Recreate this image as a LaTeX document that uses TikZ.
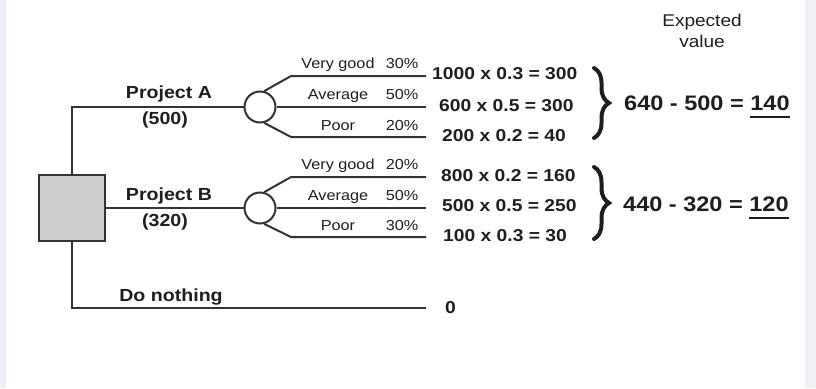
\documentclass[tikz,border=0pt]{standalone}
\usepackage{fontspec}
\setmainfont[FakeStretch=1.12]{Liberation Sans}
\usetikzlibrary{decorations.pathreplacing}
\definecolor{linegray}{HTML}{333333}
\definecolor{textblack}{HTML}{1E1E1E}
\definecolor{stripgray}{HTML}{EFF0F3}
\newcommand{\evline}[1]{\setbox0=\hbox{#1}\rlap{\vrule width\wd0 height -5.7pt depth 7.7pt}\box0}

\begin{document}
\begin{tikzpicture}[x=1pt,y=-1pt,
    branch/.style={draw=linegray,line width=2pt},
    chance/.style={circle,draw=linegray,line width=2pt,fill=white,minimum size=31pt,inner sep=0pt},
    decision/.style={rectangle,draw=linegray,line width=2pt,fill=gray!40,minimum size=66pt,inner sep=0pt},
    optlabel/.style={font=\fontsize{17.5}{20}\selectfont\bfseries,text=textblack,inner sep=0pt,anchor=base},
    outlabel/.style={font=\fontsize{14.5}{17}\selectfont,text=textblack,inner sep=0pt,anchor=base},
    calc/.style={font=\fontsize{17.2}{20}\selectfont\bfseries,text=textblack,inner sep=0pt,anchor=base west},
    ev/.style={font=\fontsize{21}{24}\selectfont\bfseries,text=textblack,inner sep=0pt,anchor=base west},
    bracket/.style={draw=textblack,line width=4pt,line cap=round,decorate,decoration={brace,amplitude=15pt}}]
    \useasboundingbox (0,0) rectangle (816,388);
    \fill[stripgray] (0,0) rectangle (6,388);
    \fill[stripgray] (805,0) rectangle (816,388);

    % decision and chance nodes
    \node[decision] (dec) at (71.5,208) {};
    \node[chance] (chA) at (260,107) {};
    \node[chance] (chB) at (260,208) {};

    % ends of the branches
    \coordinate (A1) at (426,76);
    \coordinate (A2) at (426,107);
    \coordinate (A3) at (426,137);
    \coordinate (B1) at (426,177);
    \coordinate (B2) at (426,208);
    \coordinate (B3) at (426,237);
    \coordinate (D0) at (426,308);

    \draw[branch] (chA.west) -| (dec.north);
    \draw[branch] (dec.east) -- (chB.west);
    \draw[branch] (dec.south) |- (D0);

    \draw[branch] (chA.75) -- (291,76) -- (A1);
    \draw[branch] (chA.east) -- (A2);
    \draw[branch] (chA.-75) -- (291,137) -- (A3);
    \draw[branch] (chB.75) -- (291,177) -- (B1);
    \draw[branch] (chB.east) -- (B2);
    \draw[branch] (chB.-75) -- (291,237) -- (B3);

    \node[optlabel] (pA) at (169,98.3) {Project A};
    \node[optlabel] (cA) at (165,124.5) {(500)};
    \node[optlabel] (pB) at (169,200) {Project B};
    \node[optlabel] (cB) at (165,226) {(320)};
    \node[optlabel] (dn) at (171,301.5) {Do nothing};

    \node[outlabel] (oA1) at (338,68.7) {Very good};
    \node[outlabel] (qA1) at (402,68.7) {30\%};
    \node[outlabel] (oA2) at (338,99.7) {Average};
    \node[outlabel] (qA2) at (402,99.7) {50\%};
    \node[outlabel] (oA3) at (338,130.4) {Poor};
    \node[outlabel] (qA3) at (402,130.4) {20\%};
    \node[outlabel] (oB1) at (338,169.4) {Very good};
    \node[outlabel] (qB1) at (402,169.4) {20\%};
    \node[outlabel] (oB2) at (338,200.4) {Average};
    \node[outlabel] (qB2) at (402,200.4) {50\%};
    \node[outlabel] (oB3) at (338,230.4) {Poor};
    \node[outlabel] (qB3) at (402,230.4) {30\%};

    \node[calc] (rA1) at (432,79.5) {1000 x 0.3 = 300};
    \node[calc] (rA2) at (439,111.5) {600 x 0.5 = 300};
    \node[calc] (rA3) at (442,141.5) {200 x 0.2 = 40};
    \node[calc] (rB1) at (441,181.5) {800 x 0.2 = 160};
    \node[calc] (rB2) at (442,211.5) {500 x 0.5 = 250};
    \node[calc] (rB3) at (443,241.5) {100 x 0.3 = 30};
    \node[calc] (r0) at (445,313.3) {0};

    \draw[bracket] (594,68) -- (594,138);
    \draw[bracket] (594,167) -- (594,239);

    \node[ev] (evA) at (624,110) {640 - 500 = \evline{140}};
    \node[ev] (evB) at (623,211.5) {440 - 320 = \evline{120}};

    \node[font=\fontsize{17}{20}\selectfont,text=textblack,inner sep=0pt,anchor=base] (evt1) at (702,27) {Expected};
    \node[font=\fontsize{17}{20}\selectfont,text=textblack,inner sep=0pt,anchor=base] (evt2) at (702,47) {value};
\end{tikzpicture}
\end{document}
